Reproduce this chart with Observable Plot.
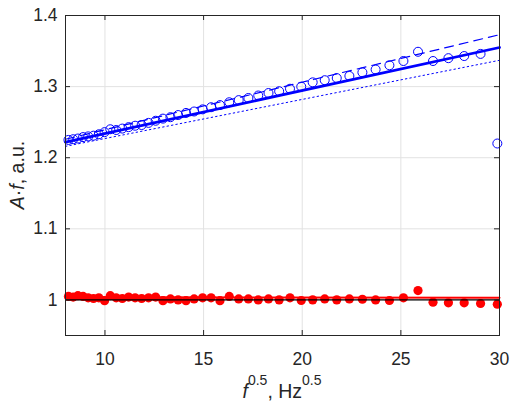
<!DOCTYPE html>
<html><head><meta charset="utf-8">
<script src="https://cdn.jsdelivr.net/npm/d3@7"></script>
<script src="https://cdn.jsdelivr.net/npm/@observablehq/plot@0.6"></script>
<style>body{margin:0;background:#fff;} #chart svg{display:block;}</style>
</head><body><div id="chart"></div>
<script>
// f^0.5 values (Hz^0.5)
const sqrtF = [8.15, 8.39, 8.63, 8.89, 9.15, 9.42, 9.69, 9.98, 10.27, 10.57,
  10.88, 11.20, 11.53, 11.86, 12.21, 12.57, 12.94, 13.32, 13.71, 14.11,
  14.52, 14.95, 15.38, 15.83, 16.30, 16.78, 17.27, 17.77, 18.29, 18.83,
  19.38, 19.95, 20.53, 21.14, 21.75, 22.39, 23.05, 23.72, 24.42, 25.13,
  25.87, 26.63, 27.41, 28.21, 29.04, 29.89];
// blue open circles
const blueY = [1.225, 1.226, 1.227, 1.229, 1.230, 1.231, 1.233, 1.236, 1.240, 1.239,
  1.241, 1.243, 1.245, 1.246, 1.249, 1.252, 1.255, 1.257, 1.260, 1.263,
  1.265, 1.268, 1.271, 1.274, 1.278, 1.281, 1.284, 1.2875, 1.291, 1.2935,
  1.297, 1.300, 1.306, 1.309, 1.312, 1.315, 1.320, 1.324, 1.330, 1.336,
  1.349, 1.336, 1.340, 1.343, 1.346, 1.220];
// red filled dots
const redY = [1.005, 1.004, 1.006, 1.005, 1.003, 1.002, 1.003, 0.999, 1.006, 1.003,
  1.002, 1.004, 1.003, 1.002, 1.003, 1.004, 0.999, 1.0015, 1.000, 0.999,
  1.0015, 1.003, 1.003, 0.999, 1.005, 1.0015, 1.0015, 1.000, 1.0015, 1.0001,
  1.003, 0.9992, 1.0001, 1.0015, 1.0001, 1.0015, 1.001, 1.000, 0.9992, 1.003,
  1.0132, 0.9968, 0.996, 0.996, 0.995, 0.994];
// fitted lines (end points)
const lineX = [8, 30];
const blueSolidY = [1.222, 1.355];
const blueDashedY = [1.226, 1.373];
const blueDottedY = [1.216, 1.337];
const redLineY = [1.004, 1.003];
const refY = [1];
const xTicks = [10, 15, 20, 25, 30];
const yTicks = [1, 1.1, 1.2, 1.3, 1.4];

const W = 516, H = 404, mL = 65, mR = 17, mT = 15, mB = 69;
const pw = W - mL - mR, ph = H - mT - mB;
const blue = sqrtF.map((x, i) => ({x, y: blueY[i]}));
const red = sqrtF.map((x, i) => ({x, y: redY[i]}));
const mk = ys => lineX.map((x, i) => ({x, y: ys[i]}));
const BLUE = "#0000ff", RED = "#ff0000", INK = "#262626";

const plot = Plot.plot({
  width: W, height: H,
  marginLeft: mL, marginRight: mR, marginTop: mT, marginBottom: mB,
  style: {fontFamily: "'Liberation Sans', Arial, sans-serif", fontSize: "17.5px", color: INK, background: "#fff"},
  x: {domain: [8, 30]},
  y: {domain: [0.95, 1.4]},
  marks: [
    Plot.gridX(xTicks, {stroke: "#e2e2e2", strokeOpacity: 1}),
    Plot.gridY(yTicks, {stroke: "#e2e2e2", strokeOpacity: 1}),
    Plot.dot(red, {x: "x", y: "y", r: 4.6, fill: RED}),
    Plot.dot(blue, {x: "x", y: "y", r: 4.5, stroke: BLUE, fill: "none", strokeWidth: 1}),
    Plot.line(mk(blueDottedY), {x: "x", y: "y", stroke: BLUE, strokeWidth: 1, strokeDasharray: "1.5,3"}),
    Plot.line(mk(blueDashedY), {x: "x", y: "y", stroke: BLUE, strokeWidth: 1.2, strokeDasharray: "9,6"}),
    Plot.line(mk(blueSolidY), {x: "x", y: "y", stroke: BLUE, strokeWidth: 2.8}),
    Plot.ruleY(refY, {stroke: "#000", strokeWidth: 1.2}),
    Plot.line(mk(redLineY), {x: "x", y: "y", stroke: RED, strokeWidth: 2}),
    Plot.frame({stroke: INK}),
    Plot.tickX(xTicks, {x: d => d, insetTop: ph - 5, stroke: INK}),
    Plot.tickX(xTicks, {x: d => d, insetBottom: ph - 5, stroke: INK}),
    Plot.tickY(yTicks, {y: d => d, insetRight: pw - 5, stroke: INK}),
    Plot.tickY(yTicks, {y: d => d, insetLeft: pw - 5, stroke: INK}),
    Plot.axisX(xTicks, {tickSize: 0, tickPadding: 17, label: null}),
    Plot.axisY(yTicks, {tickSize: 0, tickPadding: 8, label: null, tickFormat: d => d === 1 ? "1" : d.toFixed(1)})
  ]
});

const svg = d3.select(plot);
const xl = svg.append("text")
  .attr("x", mL + pw / 2).attr("y", 398)
  .attr("text-anchor", "middle").attr("font-size", 19.5).attr("fill", INK);
xl.append("tspan").attr("font-style", "italic").text("f");
xl.append("tspan").attr("font-size", 14).attr("dy", -13).text("0.5");
xl.append("tspan").attr("dy", 13).text(", Hz");
xl.append("tspan").attr("font-size", 14).attr("dy", -13).text("0.5");

const yl = svg.append("text")
  .attr("transform", `translate(24,${mT + ph / 2}) rotate(-90)`)
  .attr("text-anchor", "middle").attr("font-size", 19.5).attr("fill", INK);
yl.append("tspan").attr("font-style", "italic").text("A");
yl.append("tspan").text("·");
yl.append("tspan").attr("font-style", "italic").text("f");
yl.append("tspan").text(", a.u.");

document.getElementById("chart").appendChild(plot);
</script>
</body></html>
